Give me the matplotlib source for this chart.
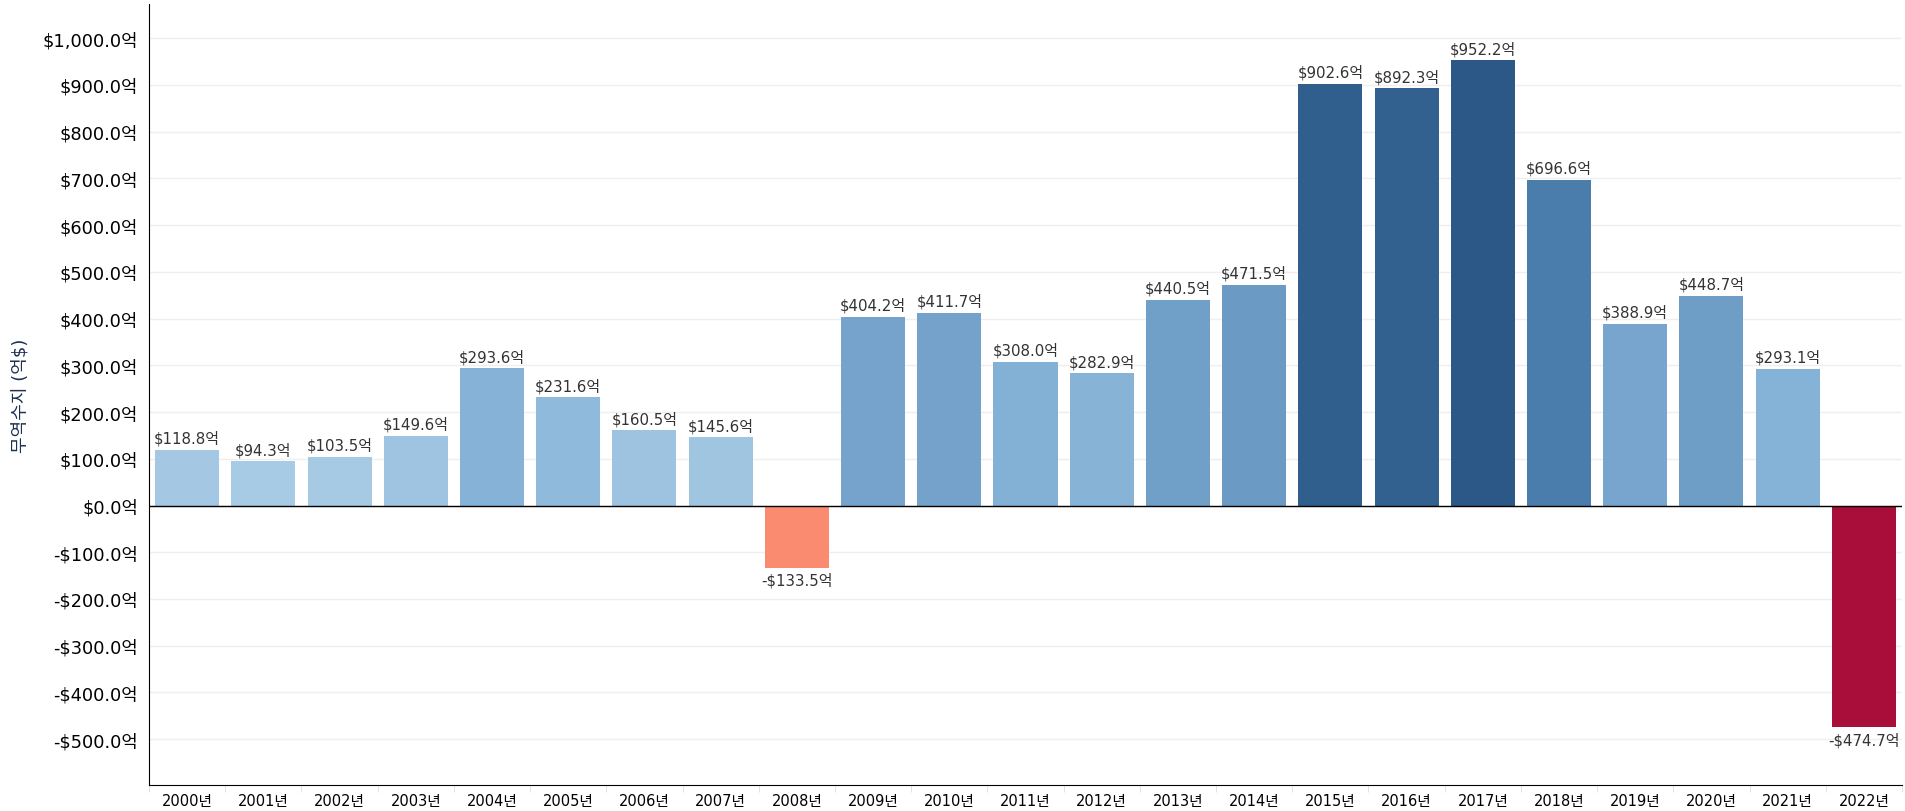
"""Korean trade balance by year (bar chart, value-coloured)."""

import matplotlib
matplotlib.use("Agg")
import matplotlib.pyplot as plt
import numpy as np
from matplotlib.colors import to_rgb, to_hex
from matplotlib.ticker import FixedLocator, FuncFormatter

plt.rcParams["font.family"] = ["DejaVu Sans", "Noto Sans CJK KR"]

# ---------------------------------------------------------------------------
# Data
# ---------------------------------------------------------------------------

years = [f"{y}년" for y in range(2000, 2023)]
balance = [
    118.8, 94.3, 103.5, 149.6, 293.6, 231.6, 160.5, 145.6, -133.5,
    404.2, 411.7, 308.0, 282.9, 440.5, 471.5, 902.6, 892.3, 952.2,
    696.6, 388.9, 448.7, 293.1, -474.7,
]
y_ticks = list(range(-500, 1001, 100))

# colour ramp anchors (value -> colour)
ramp_vals = [-474.7, -133.5, 0.0, 300.0, 700.0, 952.2]
ramp_cols = ["#a90d3a", "#fb8b70", "#b9d7ec", "#84b1d6", "#4a7dac", "#2b5886"]


def bar_color(v):
    rgb = np.array([to_rgb(c) for c in ramp_cols])
    if v < 0:
        # negatives: interpolate only within the red side
        r = [np.interp(v, ramp_vals[:2], rgb[:2, k]) for k in range(3)]
    else:
        r = [np.interp(v, ramp_vals[2:], rgb[2:, k]) for k in range(3)]
    return to_hex(r)


def fmt_won(v, _pos=None):
    s = f"{abs(v):,.1f}"
    return f"-${s}억" if v < 0 else f"${s}억"


# ---------------------------------------------------------------------------
# Plot
# ---------------------------------------------------------------------------

fig = plt.figure(figsize=(19.05, 8.12), dpi=100)
ax = fig.add_axes([149 / 1905, 26 / 812, 1753 / 1905, 781 / 812])

x = np.arange(len(years))
colors = [bar_color(v) for v in balance]
ax.bar(x, balance, width=0.84, color=colors, linewidth=0, zorder=2)

for xi, v in zip(x, balance):
    if v >= 0:
        ax.annotate(fmt_won(v), (xi, v), xytext=(0, 3), textcoords="offset points",
                    ha="center", va="bottom", fontsize=10.8, color="#333333")
    else:
        ax.annotate(fmt_won(v), (xi, v), xytext=(0, -3), textcoords="offset points",
                    ha="center", va="top", fontsize=10.8, color="#333333")

ax.set_xlim(-0.5, len(years) - 0.5)
ax.set_ylim(-598, 1073)

ax.yaxis.set_major_locator(FixedLocator(y_ticks))
ax.yaxis.set_major_formatter(FuncFormatter(fmt_won))
ax.tick_params(axis="y", length=0, labelsize=12.8, pad=8, labelcolor="black")
ax.grid(axis="y", color="#efefef", linewidth=1, zorder=0)
ax.axhline(0, color="black", linewidth=1, zorder=3)

ax.set_xticks(x)
ax.set_xticklabels(years)
ax.set_xticks(np.arange(-0.5, len(years)), minor=True)
ax.tick_params(axis="x", which="major", length=0, labelsize=10.5, pad=6)
ax.tick_params(axis="x", which="minor", length=5, color="#dddddd")

for side in ("top", "right"):
    ax.spines[side].set_visible(False)
ax.spines["left"].set_color("black")
ax.spines["bottom"].set_color("black")

ax.set_ylabel("무역수지 (억$)", fontsize=13, color="#1e3050")
ax.yaxis.set_label_coords(-0.068, 0.5)

fig.savefig("out.png", dpi=100)
plt.close(fig)
